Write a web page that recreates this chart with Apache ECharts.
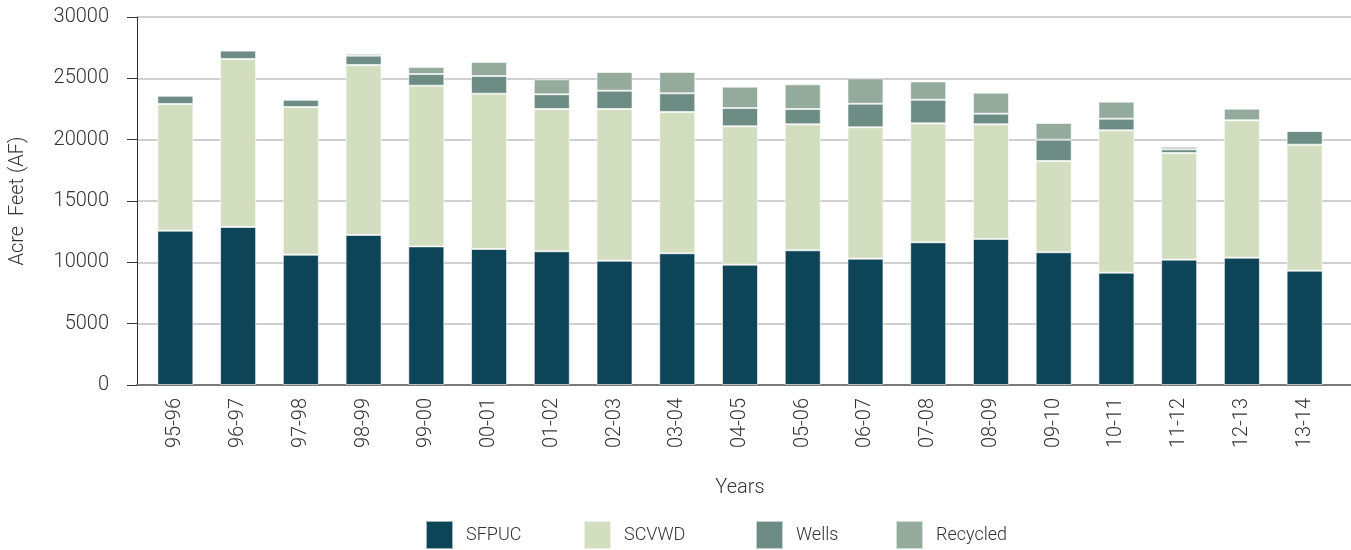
<!DOCTYPE html>
<html>
<head>
<meta charset="utf-8">
<script src="https://cdn.jsdelivr.net/npm/echarts@6/dist/echarts.min.js"></script>
<style>
html, body { margin: 0; padding: 0; background: #fff; }
#myChart { width: 1351px; height: 550px; }
</style>
</head>
<body>
<div id="myChart"></div>
<script>
// 数据
var years = ['95-96','96-97','97-98','98-99','99-00','00-01','01-02','02-03','03-04','04-05','05-06','06-07','07-08','08-09','09-10','10-11','11-12','12-13','13-14'];
var sfpuc = [12580,12880,10620,12230,11300,11090,10900,10130,10740,9810,10980,10300,11630,11900,10820,9160,10220,10380,9320];
var scvwd = [10330,13700,12040,13860,13100,12660,11600,12370,11520,11280,10270,10710,9700,9350,7440,11600,8690,11200,10270];
var wells = [680,680,600,760,950,1440,1200,1490,1520,1490,1250,1920,1920,870,1740,950,300,0,1120];
var recycled = [0,0,0,160,570,1140,1220,1520,1740,1740,2010,2070,1500,1710,1360,1390,210,950,0];

var names = ['SFPUC','SCVWD','Wells','Recycled'];
var colors = ['#0d4457','#d3ddc0','#6d8c83','#93aa9c'];
var values = [sfpuc, scvwd, wells, recycled];
var legendLeft = [420, 578, 750, 890];

var font = 'Roboto, sans-serif';

var myChart = echarts.init(document.getElementById('myChart'));

var option = {
    animation: false,
    color: colors,
    grid: [
        {left: 133, right: 0, top: 17, bottom: 165},
        {left: 144, right: 15, top: 17, bottom: 165}
    ],
    legend: [],
    xAxis: [
        {
            gridIndex: 0,
            type: 'value',
            min: 0, max: 1,
            axisLine: {show: true, lineStyle: {color: '#7a7a7a', width: 2}},
            axisTick: {show: false},
            axisLabel: {show: false},
            splitLine: {show: false}
        },
        {
            gridIndex: 1,
            type: 'category',
            data: years,
            axisLine: {show: false},
            axisTick: {show: false},
            axisLabel: {rotate: 90, margin: 13, fontSize: 20, color: '#333', fontFamily: font, fontWeight: 300},
            name: 'Years',
            nameLocation: 'middle',
            nameGap: 93,
            nameTextStyle: {fontSize: 20, color: '#333', fontFamily: font, fontWeight: 300}
        }
    ],
    yAxis: [
        {
            gridIndex: 0,
            type: 'value',
            min: 0, max: 30000, interval: 5000,
            axisLine: {show: true, lineStyle: {color: '#333', width: 1}},
            axisTick: {show: true, length: 10, lineStyle: {color: '#333'}},
            axisLabel: {fontSize: 20, color: '#333', margin: 28, fontFamily: font, fontWeight: 300,
                formatter: function (v) { return String(v); }},
            splitLine: {show: true, lineStyle: {color: '#d0d0d0', width: 2}},
            name: 'Acre  Feet (AF)',
            nameLocation: 'middle',
            nameRotate: 90,
            nameGap: 109,
            nameTextStyle: {fontSize: 20, color: '#333', fontFamily: font, fontWeight: 300}
        },
        {
            gridIndex: 1,
            type: 'value',
            min: 0, max: 30000,
            show: false
        }
    ],
    series: []
};

for (var m = 0; m < names.length; m++) {
    option.legend.push({
        data: [names[m]],
        left: legendLeft[m],
        top: 515,
        icon: 'rect',
        itemWidth: 27,
        itemHeight: 28,
        textStyle: {fontSize: 18, color: '#333', fontFamily: font, fontWeight: 300, padding: [0, 0, 0, 8]}
    });
    option.series.push({
        name: names[m],
        type: 'bar',
        stack: 'total',
        xAxisIndex: 1,
        yAxisIndex: 1,
        barWidth: 36,
        data: values[m],
        itemStyle: {color: colors[m], borderColor: 'rgba(255,255,255,0.6)', borderWidth: 1}
    });
}

myChart.setOption(option);
</script>
</body>
</html>
